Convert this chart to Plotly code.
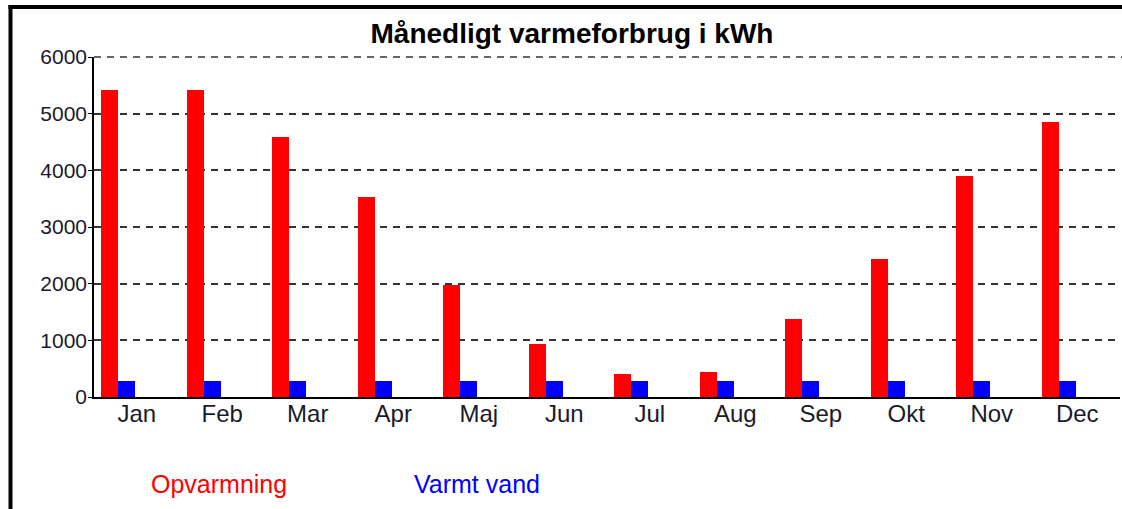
import plotly.graph_objects as go

months = ["Jan", "Feb", "Mar", "Apr", "Maj", "Jun", "Jul", "Aug", "Sep", "Okt", "Nov", "Dec"]
opvarmning = [5420, 5420, 4590, 3530, 1980, 930, 400, 440, 1380, 2430, 3900, 4850]
varmt_vand = [280, 280, 280, 280, 280, 280, 280, 280, 280, 280, 280, 280]
y_ticks = [0, 1000, 2000, 3000, 4000, 5000, 6000]

W, H = 1122, 509
L, R, T, B = 94, 1120, 57, 397  # plot area in page pixels

x = list(range(len(months)))

fig = go.Figure()
fig.add_trace(go.Bar(x=x, y=opvarmning, name="Opvarmning", marker=dict(color="#ff0000", line=dict(width=0)),
                     offset=-0.418, width=0.2, showlegend=False))
fig.add_trace(go.Bar(x=x, y=varmt_vand, name="Varmt vand", marker=dict(color="#0000ff", line=dict(width=0)),
                     offset=-0.218, width=0.2, showlegend=False))

def px2x(p):
    return (p - L) / (R - L)

def py2y(p):
    return (B - p) / (B - T)

shapes = [
    dict(type="line", xref="paper", yref="paper", x0=px2x(10.5), x1=px2x(10.5), y0=py2y(5), y1=py2y(520),
         line=dict(color="black", width=4)),
    dict(type="line", xref="paper", yref="paper", x0=px2x(8.5), x1=px2x(1130), y0=py2y(7), y1=py2y(7),
         line=dict(color="black", width=4)),
    dict(type="line", xref="paper", yref="paper", x0=0, x1=px2x(1122), y0=1, y1=1,
         line=dict(color="#333333", width=1.5, dash="7px,6px")),
]

annotations = [
    dict(text="Opvarmning", xref="paper", yref="paper", x=px2x(219), y=py2y(484), xanchor="center", yanchor="middle",
         showarrow=False, font=dict(family="Arial, Liberation Sans", size=25, color="#ff0000")),
    dict(text="Varmt vand", xref="paper", yref="paper", x=px2x(477), y=py2y(484), xanchor="center", yanchor="middle",
         showarrow=False, font=dict(family="Arial, Liberation Sans", size=25, color="#0000ff")),
]

fig.update_layout(
    width=W, height=H,
    margin=dict(l=L, r=W - R, t=T, b=H - B, pad=0),
    paper_bgcolor="white", plot_bgcolor="white",
    bargap=0, barmode="overlay",
    title=dict(text="<b>Månedligt varmeforbrug i kWh</b>", x=572 / W, xanchor="center",
               y=1 - 33 / H, yanchor="middle",
               font=dict(family="Arial, Liberation Sans", size=28, color="black")),
    xaxis=dict(range=[-0.5, 11.5], tickvals=x, ticktext=months, showgrid=False, zeroline=False,
               showline=True, linecolor="black", linewidth=2, ticks="", ticklen=0, ticklabelstandoff=-6,
               tickfont=dict(family="Arial, Liberation Sans", size=24, color="#1a1a2a")),
    yaxis=dict(range=[0, 6000], tickvals=y_ticks, showgrid=True, gridcolor="#333333", gridwidth=1.5,
               griddash="7px,6px", zeroline=False, showline=True, linecolor="black", linewidth=1.5,
               ticks="outside", ticklen=4, tickcolor="black", ticklabelstandoff=-3,
               tickfont=dict(family="Arial, Liberation Sans", size=21, color="#1a1a2a")),
    shapes=shapes, annotations=annotations,
    showlegend=False,
)

fig.write_html("out.html", config={"displayModeBar": False},
               post_script="document.body.style.margin='0';document.body.style.padding='0';")
